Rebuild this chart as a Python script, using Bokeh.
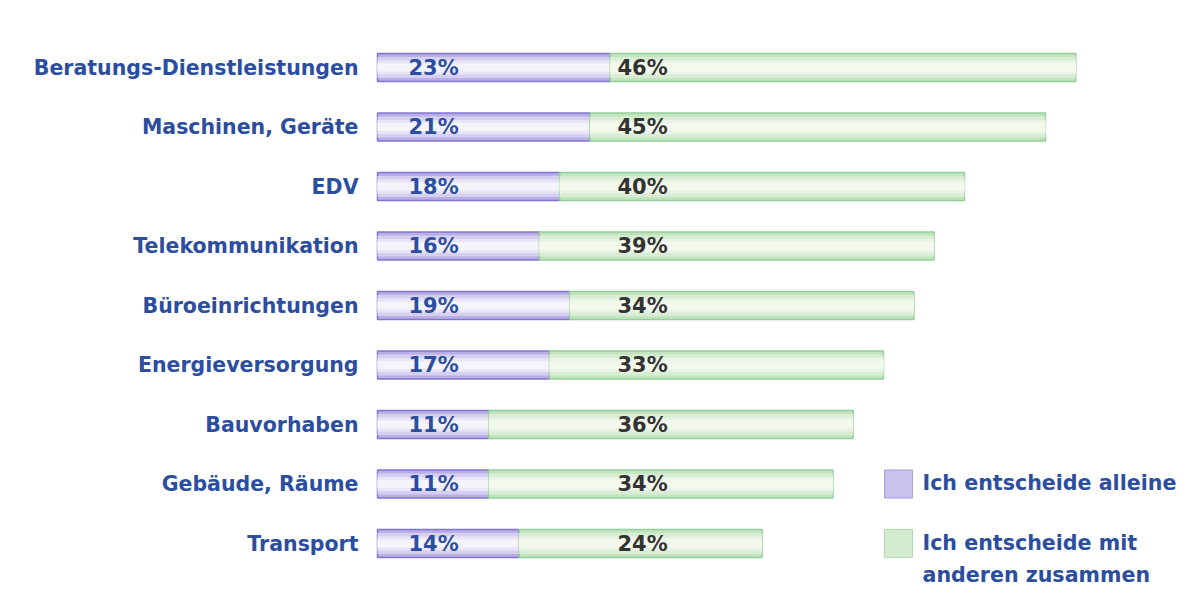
from bokeh.plotting import figure
from bokeh.models import Range1d, ColumnDataSource
from bokeh.core.properties import value
from bokeh.embed import file_html
from bokeh.resources import INLINE

categories = ["Beratungs-Dienstleistungen", "Maschinen, Geräte", "EDV", "Telekommunikation",
              "Büroeinrichtungen", "Energieversorgung", "Bauvorhaben", "Gebäude, Räume", "Transport"]
alleine = [23, 21, 18, 16, 19, 17, 11, 11, 14]
zusammen = [46, 45, 40, 39, 34, 33, 36, 34, 24]
legend_labels = ["Ich entscheide alleine", "Ich entscheide mit\nanderen zusammen"]

W, H = 1188, 605
PX_PER_PCT = 10.12
X0 = 377
ROW0, ROW_STEP = 67, 59.5

p = figure(width=W, height=H, output_backend="svg", toolbar_location=None,
           x_range=Range1d(-X0 / PX_PER_PCT, (W - X0) / PX_PER_PCT),
           y_range=Range1d((H - ROW0) / ROW_STEP, -ROW0 / ROW_STEP),
           min_border=0, border_fill_color="white", background_fill_color="white")
p.axis.visible = False
p.grid.visible = False
p.outline_line_color = None

ys = list(range(len(categories)))
bh = 28 / ROW_STEP
src = ColumnDataSource(dict(
    y=ys, cat=categories,
    a=alleine, z=zusammen,
    a_mid=[v / 2 for v in alleine],
    z_mid=[a + z / 2 for a, z in zip(alleine, zusammen)],
    a_lab=[f"{v}%" for v in alleine],
    z_lab=[f"{v}%" for v in zusammen],
))

# layered fills to mimic the soft gradient of the bars
purple_layers = [("#b9aee6", 1.0), ("#d6cfef", 0.75), ("#e9e5f6", 0.5), ("#f6f4fb", 0.28)]
green_layers = [("#c3e5be", 1.0), ("#d9edd6", 0.75), ("#eaf4e4", 0.5), ("#f4f9ee", 0.28)]
for i, (c, f) in enumerate(purple_layers):
    p.rect(x="a_mid", y="y", width="a", height=bh * f, source=src,
           fill_color=c, line_color="#8375cf" if i == 0 else None, line_width=1.5)
for i, (c, f) in enumerate(green_layers):
    p.rect(x="z_mid", y="y", width="z", height=bh * f, source=src,
           fill_color=c, line_color="#94cf99" if i == 0 else None, line_width=1.5)

font = value("DejaVu Sans")
blue = "#2c4e9e"
p.text(x=(358 - X0) / PX_PER_PCT, y="y", text="cat", source=src, text_align="right",
       text_baseline="middle", text_font=font, text_font_style="bold",
       text_font_size="20.5px", text_color=blue)
p.text(x=(408 - X0) / PX_PER_PCT, y="y", text="a_lab", source=src, text_align="left",
       text_baseline="middle", text_font=font, text_font_style="bold",
       text_font_size="21px", text_color=blue)
p.text(x=(617 - X0) / PX_PER_PCT, y="y", text="z_lab", source=src, text_align="left",
       text_baseline="middle", text_font=font, text_font_style="bold",
       text_font_size="21px", text_color="#333333")

# legend
lx = (898 - X0) / PX_PER_PCT
lw = 28 / PX_PER_PCT
ly = [len(categories) - 2, len(categories) - 1]
p.rect(x=[lx], y=[ly[0]], width=lw, height=bh, fill_color="#cac1ec", line_color="#a99ede", line_width=1)
p.rect(x=[lx], y=[ly[1]], width=lw, height=bh, fill_color="#d3ecd0", line_color="#b0dbae", line_width=1)
p.text(x=[(922 - X0) / PX_PER_PCT] * 2, y=ly, text=legend_labels, text_align="left",
       text_baseline="top", y_offset=-13, text_line_height=1.35,
       text_font=font, text_font_style="bold", text_font_size="20.6px", text_color=blue)

open("out.html", "w").write(file_html(p, INLINE))
